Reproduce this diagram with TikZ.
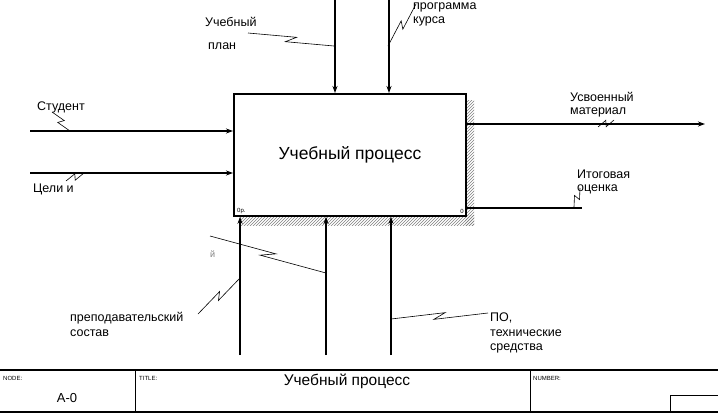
\documentclass[tikz,border=0pt]{standalone}
\usepackage{fontspec}
\setmainfont{Liberation Sans}
\usetikzlibrary{arrows.meta,positioning,patterns,calc}

% leader line with a lightning kink between a label and an arrow
\newcommand\leaderline[2]{%
  \path ($(#1)!0.56!(#2)$) coordinate (lka) ($(#1)!0.44!(#2)$) coordinate (lkb);
  \draw[leader] (#1) -- ($(lka)!3pt!90:(#2)$) -- ($(lkb)!3pt!-90:(#2)$) -- (#2);}

\begin{document}
\begin{tikzpicture}[x=1pt, y=-1pt, >={Stealth[length=7pt,width=5pt]},
    flow/.style={->, line width=1.1pt},
    leader/.style={line width=0.6pt},
    lbl/.style={anchor=west, inner sep=0pt, font=\fontsize{12.5}{14}\selectfont},
    tinylbl/.style={anchor=west, inner sep=0pt, font=\fontsize{6}{7}\selectfont},
    shadow/.style={pattern=north east lines, pattern color=gray}]

    \useasboundingbox (0,0) rectangle (718,413);

    % Activity box with hatched shadow
    \fill[shadow] (465,100) rectangle (474,225);
    \fill[shadow] (240,215) rectangle (474,225);
    \node[draw, line width=1.8pt, fill=white, anchor=north west,
          minimum width=232pt, minimum height=122pt,
          font=\fontsize{17.5}{20}\selectfont] (proc) at (233,93) {Учебный процесс};
    \node[tinylbl, anchor=south west] at ([shift={(4pt,3pt)}]proc.south west) {0р.};
    \node[tinylbl, anchor=south east] at ([shift={(-3pt,3pt)}]proc.south east) {0};

    % Arrow ends
    \coordinate (ctl1) at (335,0);
    \coordinate (ctl2) at (389,0);
    \coordinate (inp1) at (30,131);
    \coordinate (inp2) at (30,173);
    \coordinate (out1) at (705,124);
    \coordinate (out2) at (582,208);
    \coordinate (mec1) at (240,355);
    \coordinate (mec2) at (326,355);
    \coordinate (mec3) at (391,355);

    % Arrows
    \draw[flow] (ctl1) -- (ctl1 |- proc.north);
    \draw[flow] (ctl2) -- (ctl2 |- proc.north);
    \draw[flow] (inp1) -- (inp1 -| proc.west);
    \draw[flow] (inp2) -- (inp2 -| proc.west);
    \draw[flow] (out1 -| proc.east) -- (out1);
    \draw[line width=1.1pt] (out2 -| proc.east) -- (out2);
    \draw[flow] (mec1) -- (mec1 |- proc.south);
    \draw[flow] (mec2) -- (mec2 |- proc.south);
    \draw[flow] (mec3) -- (mec3 |- proc.south);

    % Labels
    \node[lbl] (plan1) at (205,22) {Учебный};
    \node[lbl] (plan2) at (208,46) {план};
    \node[lbl] (prog1) at (413,7) {программа};
    \node[lbl] (prog2) at (413,21) {курса};
    \node[lbl] (stud) at (37,107) {Студент};
    \node[lbl] (goal) at (33,189) {Цели и};
    \node[lbl] (res1) at (570,97) {Усвоенный};
    \node[lbl] (res2) at (570,112) {материал};
    \node[lbl] (mark1) at (577,174) {Итоговая};
    \node[lbl] (mark2) at (577,189) {оценка};
    \node[lbl, font=\fontsize{9}{10}\selectfont, text=gray] (misc) at (210,254) {й};
    \node[lbl] (staff1) at (70,318) {преподавательский};
    \node[lbl] (staff2) at (70,333) {состав};
    \node[lbl] (tech1) at (490,318) {ПО,};
    \node[lbl] (tech2) at (490,333) {технические};
    \node[lbl] (tech3) at (490,348) {средства};

    % Leader lines
    \leaderline{248,33}{334,46}
    \leaderline{416,4}{388,46}
    \leaderline{52,112}{70,131}
    \leaderline{66,181}{84,173}
    \leaderline{598,127}{614,120}
    \leaderline{580,188}{574,207}
    \leaderline{210,236}{326,273}
    \leaderline{198,314}{240,278}
    \leaderline{488,313}{391,319}

    % Frame footer
    \draw[line width=1.6pt] (0,370) -- (718,370);
    \draw[line width=1.6pt] (0,412) -- (718,412);
    \draw[line width=1pt] (135,370) -- (135,412);
    \draw[line width=1pt] (530,370) -- (530,412);
    \draw[line width=0.8pt] (670,412) -- (670,395) -- (718,395);
    \node[tinylbl] (nodehd) at (3,378) {NODE:};
    \node[tinylbl] (titlehd) at (139,378) {TITLE:};
    \node[tinylbl] (numhd) at (533,378) {NUMBER:};
    \node[inner sep=0pt, font=\fontsize{13}{15}\selectfont] (nodeno) at (67,398) {A-0};
    \node[inner sep=0pt, font=\fontsize{15.5}{17}\selectfont] (title) at (347,381) {Учебный процесс};
\end{tikzpicture}
\end{document}
